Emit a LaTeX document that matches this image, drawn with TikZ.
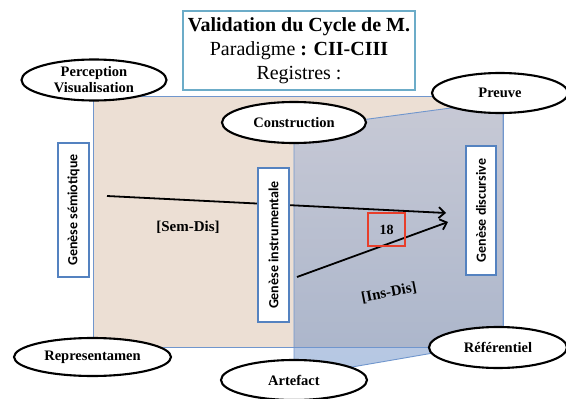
\documentclass[tikz,border=0pt]{standalone}
\usepackage{fontspec}
\setmainfont{Liberation Serif}
\newfontfamily\carl{Carlito}
\usetikzlibrary{shapes.geometric,arrows.meta}
\definecolor{beigefill}{RGB}{236,223,212}
\definecolor{planetop}{RGB}{156,176,216}
\definecolor{planebot}{RGB}{89,129,191}
\definecolor{edgeblue}{RGB}{112,150,205}
\definecolor{boxblue}{RGB}{84,130,192}
\definecolor{titleblue}{RGB}{108,172,200}
\definecolor{redbox}{RGB}{232,62,42}
\begin{document}
\begin{tikzpicture}[x=1pt,y=-1pt,
  oval/.style={ellipse,draw=black,line width=2.1pt,fill=white,inner sep=0pt,align=center,
    font=\fontsize{14.5}{16}\selectfont\bfseries},
  genbox/.style={draw=boxblue,line width=2pt,fill=white,inner sep=0pt,rotate=90,
    font=\carl\fontsize{14}{16}\selectfont\bfseries},
  arr/.style={line width=1.8pt,-{Straight Barb[length=6pt,width=11pt]}},
  lbl/.style={font=\fontsize{15}{18}\selectfont\bfseries},
  planeedge/.style={draw=edgeblue,line width=0.9pt}]
\useasboundingbox (0,0) rectangle (566,399);
% beige plane
\fill[beigefill] (93,96) rectangle (503,347);
% transparent blue plane
\shade[top color=planetop,bottom color=planebot,fill opacity=0.45]
  (294,129) -- (503,101) -- (503,341) -- (294,377) -- cycle;
\draw[planeedge] (294,129) -- (503,101) -- (503,341) -- (294,377) -- cycle;
\draw[planeedge] (93,96) rectangle (503,347);
% arrows
\coordinate (s1) at (107,196);
\coordinate (s2) at (446,213);
\coordinate (i1) at (297,277);
\coordinate (i2) at (448,222);
\draw[arr] (s1) -- (s2);
\draw[arr] (i1) -- (i2);
% labels
\node[lbl] (semdis) at (188,227) {[Sem-Dis]};
\node[lbl,rotate=11] (insdis) at (389,293) {[Ins-Dis]};
\node[draw=redbox,line width=1.6pt,minimum width=37pt,minimum height=33pt,inner sep=0pt,
  font=\fontsize{14}{16}\selectfont\bfseries] (n18) at (386.5,229.5) {18};
% genesis boxes
\node[genbox,minimum width=134pt,minimum height=31pt] (gsem) at (73.5,210) {Genèse sémiotique};
\node[genbox,minimum width=154pt,minimum height=31pt] (gins) at (273.5,245) {Genèse instrumentale};
\node[genbox,minimum width=129pt,minimum height=30pt] (gdis) at (481,210.5) {Genèse discursive};
% ellipses
\node[oval,minimum width=145pt,minimum height=41pt] (percep) at (94,80) {Perception\\Visualisation};
\node[oval,minimum width=144pt,minimum height=41pt] (constr) at (294,122.5) {Construction};
\node[oval,minimum width=136pt,minimum height=40pt] (preuve) at (500,93) {Preuve};
\node[oval,minimum width=157pt,minimum height=38pt] (repr) at (92.5,357) {Representamen};
\node[oval,minimum width=146pt,minimum height=40pt] (artef) at (294,380) {Artefact};
\node[oval,minimum width=138pt,minimum height=41pt] (refer) at (498,347.5) {Référentiel};
% title
\node[draw=titleblue,line width=2.5pt,fill=white,minimum width=232pt,minimum height=79pt,
  inner sep=0pt,align=center,font=\fontsize{20}{24}\selectfont] (title) at (299,50.5)
  {\textbf{Validation du Cycle de M.}\\Paradigme \textbf{: CII-CIII}\\Registres :};
\end{tikzpicture}
\end{document}
